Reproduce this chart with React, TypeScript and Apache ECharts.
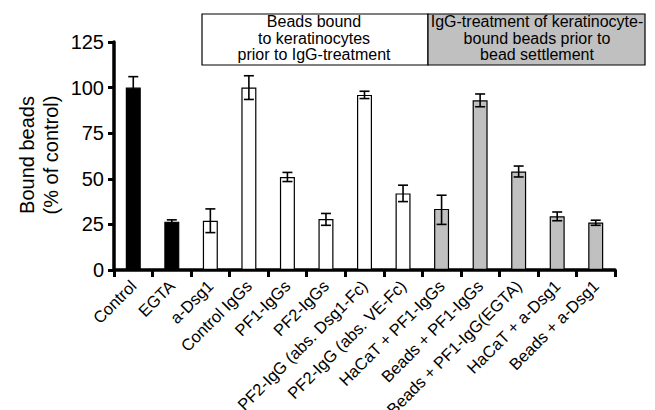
import React, { useEffect, useRef } from "react";
import * as echarts from "echarts";

const categories = [
  "Control",
  "EGTA",
  "a-Dsg1",
  "Control IgGs",
  "PF1-IgGs",
  "PF2-IgGs",
  "PF2-IgG (abs. Dsg1-Fc)",
  "PF2-IgG (abs. VE-Fc)",
  "HaCaT + PF1-IgGs",
  "Beads + PF1-IgGs",
  "Beads + PF1-IgG(EGTA)",
  "HaCaT + a-Dsg1",
  "Beads + a-Dsg1",
];
const values = [100, 26.5, 27, 100, 51, 28, 96, 42, 33.5, 93, 54, 29.5, 26];
const errLow = [94, 25.7, 20.5, 93.5, 48.5, 24.5, 94, 37.5, 25, 89.5, 51, 27, 24.5];
const errHigh = [106, 27.5, 33.5, 106.5, 53.5, 31, 98, 46.5, 41, 96.5, 57, 31.8, 27.3];
const groups = ["solid", "solid", "open", "open", "open", "open", "open", "open", "shaded", "shaded", "shaded", "shaded", "shaded"];
const yTicks = { min: 0, max: 125, interval: 25 };

const groupColor: Record<string, string> = {
  solid: "#000000",
  open: "#ffffff",
  shaded: "#c0c0c0",
};

const FONT = "Liberation Sans, Arial, Helvetica, sans-serif";

export default function App() {
  const ref = useRef<HTMLDivElement>(null);
  useEffect(() => {
    if (!ref.current) return;
    const chart = echarts.init(ref.current, undefined, { renderer: "svg" });
    const option: any = {
      animation: false,
      backgroundColor: "#ffffff",
      grid: {
        left: 114,
        right: 40,
        top: 42,
        bottom: 140,
        containLabel: false,
        outerBoundsMode: "none",
      },
      xAxis: {
        type: "category",
        data: categories,
        boundaryGap: true,
        axisLine: { lineStyle: { color: "#000", width: 3.5 } },
        axisTick: { show: true, length: 7, lineStyle: { color: "#000", width: 3 }, alignWithLabel: false },
        axisLabel: {
          rotate: 45,
          interval: 0,
          margin: 13,
          color: "#000",
          fontSize: 16.5,
          fontFamily: FONT,
        },
      },
      yAxis: {
        type: "value",
        min: yTicks.min,
        max: yTicks.max,
        interval: yTicks.interval,
        splitLine: { show: false },
        axisLine: { show: true, lineStyle: { color: "#000", width: 3.5 } },
        axisTick: { show: true, length: 6, lineStyle: { color: "#000", width: 3 } },
        axisLabel: { color: "#000", fontSize: 20, fontFamily: FONT, margin: 10 },
      },
      series: [
        {
          type: "bar",
          barWidth: 15,
          data: values.map((v, i) => ({
            value: v,
            itemStyle: {
              color: groupColor[groups[i]],
              borderColor: "#000",
              borderWidth: 1.2,
            },
          })),
          z: 2,
        },
        {
          type: "custom",
          z: 5,
          data: categories.map((_, i) => [i, errLow[i], errHigh[i]]),
          renderItem: (params: any, api: any) => {
            const x = api.value(0);
            const lo = api.coord([x, api.value(1)]);
            const hi = api.coord([x, api.value(2)]);
            const hw = 5;
            const style = { stroke: "#000", lineWidth: 1.6 };
            return {
              type: "group",
              children: [
                { type: "line", shape: { x1: lo[0], y1: lo[1], x2: hi[0], y2: hi[1] }, style },
                { type: "line", shape: { x1: hi[0] - hw, y1: hi[1], x2: hi[0] + hw, y2: hi[1] }, style },
                { type: "line", shape: { x1: lo[0] - hw, y1: lo[1], x2: lo[0] + hw, y2: lo[1] }, style },
              ],
            };
          },
        },
      ],
      graphic: [
        {
          type: "rect",
          shape: { x: 202, y: 14, width: 226, height: 51 },
          style: { fill: "#ffffff", stroke: "#000", lineWidth: 1.2 },
        },
        {
          type: "rect",
          shape: { x: 428, y: 14, width: 217, height: 51 },
          style: { fill: "#c0c0c0", stroke: "#000", lineWidth: 1.2 },
        },
        {
          type: "text",
          x: 314,
          y: 38,
          style: {
            text: "Beads bound\nto keratinocytes\nprior to IgG-treatment",
            textAlign: "center",
            textVerticalAlign: "middle",
            fontSize: 16,
            lineHeight: 16.5,
            fontFamily: FONT,
            fill: "#000",
          },
        },
        {
          type: "text",
          x: 537,
          y: 38,
          style: {
            text: "IgG-treatment of keratinocyte-\nbound beads prior to\nbead settlement",
            textAlign: "center",
            textVerticalAlign: "middle",
            fontSize: 16,
            lineHeight: 16.5,
            fontFamily: FONT,
            fill: "#000",
          },
        },
        {
          type: "text",
          x: 39,
          y: 155,
          rotation: Math.PI / 2,
          style: {
            text: "Bound beads\n(% of control)",
            textAlign: "center",
            textVerticalAlign: "middle",
            fontSize: 20,
            lineHeight: 24,
            fontFamily: FONT,
            fill: "#000",
          },
        },
      ],
    };
    chart.setOption(option);
    return () => chart.dispose();
  }, []);
  return (
    <div
      ref={ref}
      style={{ position: "fixed", left: 0, top: 0, width: 655, height: 410 }}
    />
  );
}
